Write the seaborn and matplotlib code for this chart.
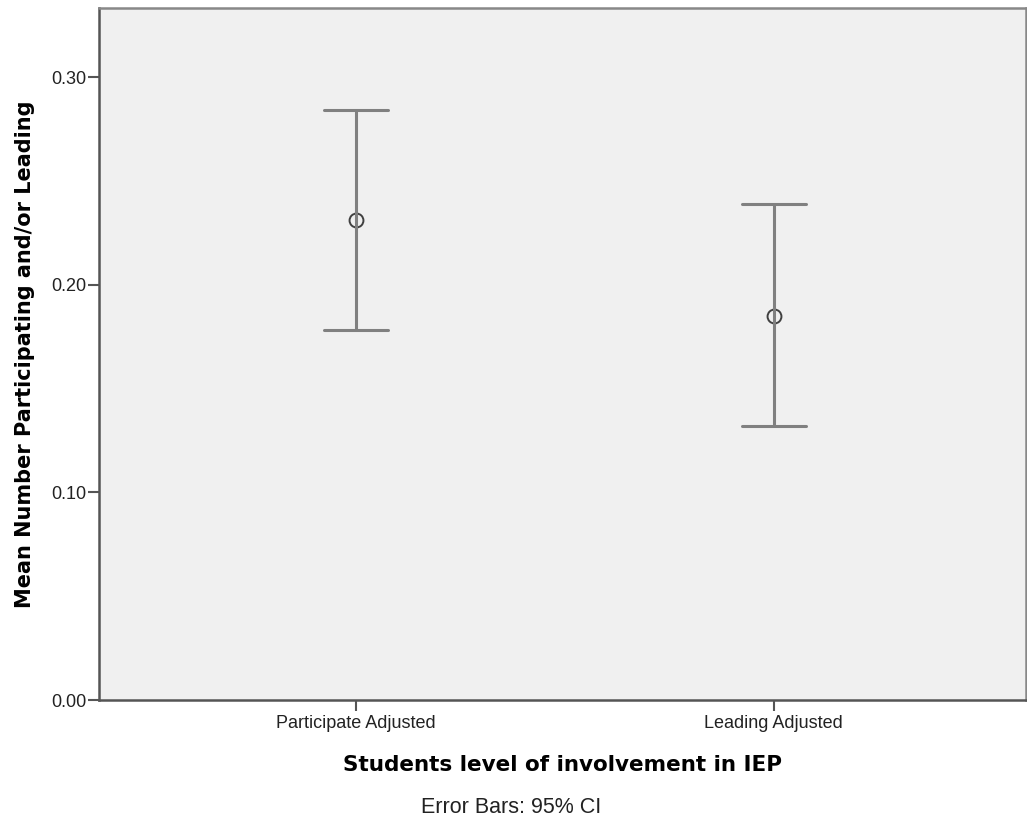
import numpy as np
import pandas as pd
import seaborn as sns
import matplotlib
matplotlib.use("Agg")
import matplotlib.pyplot as plt

# values: mean and 95% CI bounds
categories = ["Participate Adjusted", "Leading Adjusted"]
means = [0.231, 0.185]
ci_low = [0.178, 0.132]
ci_high = [0.284, 0.239]

# three rows per group (low, mean, high): median -> mean, min/max -> CI
rows = []
for cat, lo, m, hi in zip(categories, ci_low, means, ci_high):
    for v in (lo, m, hi):
        rows.append({"group": cat, "value": v})
df = pd.DataFrame(rows)

sns.set_theme(style="white")
plt.rcParams['font.family'] = ['Liberation Sans', 'DejaVu Sans']

fig = plt.figure(figsize=(10.27, 8.3), dpi=100)
ax = fig.add_axes([0.0964, 0.1566, 0.9026, 0.8338])
ax.set_facecolor("#f0f0f0")

sns.pointplot(
    data=df, x="group", y="value", order=categories,
    estimator="median", errorbar=lambda x: (x.min(), x.max()),
    linestyle="none", capsize=0.154, color="#808080",
    marker="o", markersize=10, markerfacecolor="none",
    markeredgecolor="#404040", markeredgewidth=1.4,
    err_kws={"linewidth": 2.2, "color": "#808080"},
    ax=ax,
)

ax.set_xlim(-0.616, 1.604)
ax.set_ylim(0, 0.3333)
ax.set_yticks([0.0, 0.1, 0.2, 0.3])
ax.set_yticklabels(["0.00", "0.10", "0.20", "0.30"])

for side in ["left", "bottom", "top", "right"]:
    ax.spines[side].set_visible(True)
    ax.spines[side].set_color("#555555")
    ax.spines[side].set_linewidth(1.8)
ax.spines["top"].set_color("#888888")
ax.spines["right"].set_color("#888888")

ax.tick_params(axis="both", which="both", direction="out", length=8,
               width=1.5, color="#555555", labelsize=13, labelcolor="#222222",
               left=True, bottom=True)
ax.tick_params(axis="y", pad=1)
ax.tick_params(axis="x", pad=3)

ax.set_ylabel("Mean Number Participating and/or Leading", fontsize=15,
              fontweight="bold", family="DejaVu Sans", labelpad=12,
              color="black")
ax.set_xlabel("Students level of involvement in IEP", fontsize=15.5,
              fontweight="bold", family="DejaVu Sans", labelpad=16,
              color="black")

fig.text(0.498, 0.027, "Error Bars: 95% CI", ha="center", va="center",
         fontsize=15.5, color="#222222")

fig.savefig("out.png", dpi=100)
